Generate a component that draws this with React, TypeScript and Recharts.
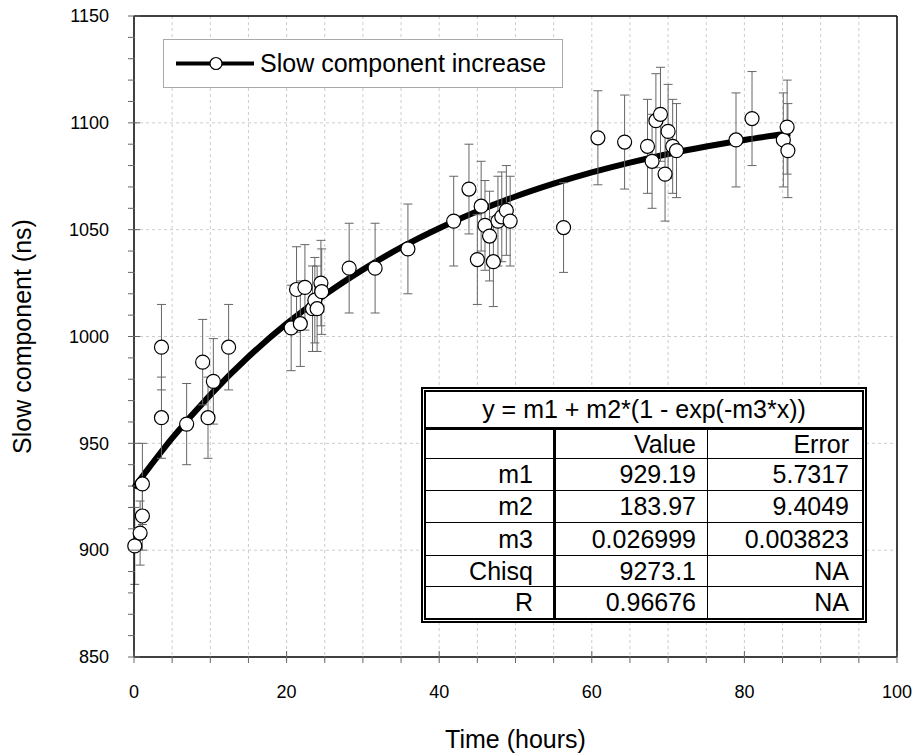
import React from "react"
import { ComposedChart, Line, Scatter, ErrorBar, XAxis, YAxis, CartesianGrid, Legend } from "recharts"

// measured points (hours, ns, error)
const hours = [
  0.1, 0.8, 1.1, 1.1, 3.6, 3.6, 6.9, 9.0, 9.7, 10.4, 12.4,
  20.6, 21.3, 21.8, 22.4, 23.4, 23.7, 24.0, 24.5, 24.6, 28.2, 31.6,
  35.9, 41.9, 43.9, 45.0, 45.5, 46.0, 46.6, 47.1, 47.7, 48.2, 48.8, 49.3, 56.3,
  60.8, 64.3, 67.3, 67.9, 68.4, 69.0, 69.6, 70.0, 70.6, 71.1, 78.9, 81.0, 85.1, 85.6, 85.7,
]
const slow = [
  902, 908, 916, 931, 962, 995, 959, 988, 962, 979, 995,
  1004, 1022, 1006, 1023, 1013, 1017, 1013, 1025, 1021, 1032, 1032,
  1041, 1054, 1069, 1036, 1061, 1052, 1047, 1035, 1054, 1056, 1059, 1054, 1051,
  1093, 1091, 1089, 1082, 1101, 1104, 1076, 1096, 1089, 1087, 1092, 1102, 1092, 1098, 1087,
]
const slowErr = [
  18, 15, 16, 19, 19, 20, 19, 20, 19, 20, 20,
  20, 20, 20, 20, 20, 20, 20, 20, 20, 21, 21,
  21, 21, 21, 21, 21, 21, 21, 21, 21, 21, 21, 21, 21,
  22, 22, 22, 22, 22, 22, 22, 22, 22, 22, 22, 22, 22, 22, 22,
]

// fitted curve
const fitHours = [0, 5, 10, 15, 20, 25, 30, 35, 40, 45, 50, 55, 60, 65, 70, 75, 80, 86]
const fitSlow = [929.2, 952.4, 972.7, 990.5, 1006.0, 1019.5, 1031.3, 1041.7, 1050.7, 1058.6, 1065.5, 1071.5, 1076.8, 1081.4, 1085.4, 1088.9, 1092.0, 1095.1]

const xTicks = [0, 5, 10, 15, 20, 25, 30, 35, 40, 45, 50, 55, 60, 65, 70, 75, 80, 85, 90, 95, 100]
const yTicks = [
  850, 860, 870, 880, 890, 900, 910, 920, 930, 940, 950, 960, 970, 980, 990, 1000,
  1010, 1020, 1030, 1040, 1050, 1060, 1070, 1080, 1090, 1100, 1110, 1120, 1130, 1140, 1150,
]
const xGrid = [5, 10, 15, 20, 25, 30, 35, 40, 45, 50, 55, 60, 65, 70, 75, 80, 85, 90, 95]
const yGrid = [900, 950, 1000, 1050, 1100]

const fitFormula = "y = m1 + m2*(1 - exp(-m3*x))"
const fitNames = ["m1", "m2", "m3", "Chisq", "R"]
const fitValues = ["929.19", "183.97", "0.026999", "9273.1", "0.96676"]
const fitErrors = ["5.7317", "9.4049", "0.003823", "NA", "NA"]

const points = hours.map((x, i) => ({ x, y: slow[i], err: slowErr[i] }))
const fitData = fitHours.map((x, i) => ({ x, y: fitSlow[i] }))

const FONT = "'Liberation Sans', Arial, Helvetica, sans-serif"
const TICK = "#666"
const axisLine = { stroke: "#000", strokeWidth: 1.5 }

function BottomTick({ x, y, payload }: any) {
  const major = payload.value % 20 === 0
  return (
    <g>
      <line x1={x} x2={x} y1={y} y2={y - (major ? 12 : 7)} stroke={TICK} />
      {major && (
        <text x={x} y={y + 35} textAnchor="middle" fontSize={18} fill="#000" fontFamily={FONT}>
          {payload.value}
        </text>
      )}
    </g>
  )
}

function TopTick({ x, y, payload }: any) {
  const major = payload.value % 20 === 0
  return <line x1={x} x2={x} y1={y} y2={y + (major ? 12 : 7)} stroke={TICK} />
}

function LeftTick({ x, y, payload }: any) {
  const major = payload.value % 50 === 0
  return (
    <g>
      <line x1={x} x2={x + (major ? 12 : 7)} y1={y} y2={y} stroke={TICK} />
      {major && (
        <text x={x - 19} y={y} dy="0.35em" textAnchor="end" fontSize={18} fill="#000" fontFamily={FONT}>
          {payload.value}
        </text>
      )}
    </g>
  )
}

function RightTick({ x, y, payload }: any) {
  const major = payload.value % 50 === 0
  return <line x1={x} x2={x - (major ? 12 : 7)} y1={y} y2={y} stroke={TICK} />
}

function Dot(p: any) {
  return <circle cx={p.cx} cy={p.cy} r={7} fill="#fff" stroke="#000" strokeWidth={1.2} />
}

function FitLegend() {
  return (
    <div
      style={{
        boxSizing: "border-box", width: 400, height: 49, border: "1px solid #aaa",
        background: "#fff", display: "flex", alignItems: "center", fontFamily: FONT,
      }}
    >
      <svg width={96} height={47}>
        <line x1={12} x2={90} y1={23.5} y2={23.5} stroke="#000" strokeWidth={4} />
        <circle cx={52} cy={23.5} r={6} fill="#fff" stroke="#000" strokeWidth={1.2} />
      </svg>
      <span style={{ fontSize: 25, color: "#000" }}>Slow component increase</span>
    </div>
  )
}

const cell = (w: number, pad: number, right: string) => ({
  boxSizing: "border-box" as const, width: w, paddingRight: pad, textAlign: "right" as const,
  borderRight: right, display: "flex", alignItems: "center", justifyContent: "flex-end",
})

function FitTable() {
  const rowH = [32, 33, 33, 32, 32]
  return (
    <div
      style={{
        position: "absolute", left: 421, top: 387, width: 446, height: 236, boxSizing: "border-box",
        border: "5px double #000", background: "#fff", fontFamily: FONT, fontSize: 25, color: "#000",
        display: "flex", flexDirection: "column",
      }}
    >
      <div style={{ height: 36, borderBottom: "3px solid #000", display: "flex", alignItems: "center", justifyContent: "center" }}>
        {fitFormula}
      </div>
      <div style={{ height: 28, display: "flex" }}>
        <div style={cell(130, 20, "3px solid #000")}></div>
        <div style={cell(152, 11, "1px solid #000")}>Value</div>
        <div style={cell(154, 13, "none")}>Error</div>
      </div>
      {fitNames.map((n, i) => (
        <div key={n} style={{ height: rowH[i], display: "flex", borderTop: "1px solid #000", boxSizing: "border-box" }}>
          <div style={cell(130, 20, "3px solid #000")}>{n}</div>
          <div style={cell(152, 11, "1px solid #000")}>{fitValues[i]}</div>
          <div style={cell(154, 13, "none")}>{fitErrors[i]}</div>
        </div>
      ))}
    </div>
  )
}

export default function App() {
  return (
    <div style={{ position: "absolute", left: 0, top: 0, width: 914, height: 756, background: "#fff", fontFamily: FONT }}>
      <ComposedChart width={914} height={756} margin={{ top: 0, right: 0, bottom: 0, left: 0 }}>
        <CartesianGrid
          horizontalValues={yGrid}
          verticalValues={xGrid}
          stroke="#ccc"
          strokeDasharray="3 3"
        />
        <XAxis
          dataKey="x" type="number" domain={[0, 100]} ticks={xTicks} interval={0}
          height={99} axisLine={axisLine} tickLine={false} tickMargin={0} tick={BottomTick}
          label={{ value: "Time (hours)", position: "insideBottom", offset: 8, style: { fontSize: 25, fill: "#000", fontFamily: FONT } }}
        />
        <XAxis
          xAxisId="top" orientation="top" type="number" domain={[0, 100]} ticks={xTicks} interval={0}
          height={16} axisLine={axisLine} tickLine={false} tickMargin={0} tick={TopTick}
        />
        <YAxis
          type="number" domain={[850, 1150]} ticks={yTicks} interval={0}
          width={134} axisLine={axisLine} tickLine={false} tickMargin={0} tick={LeftTick}
          label={{ value: "Slow component (ns)", angle: -90, position: "insideLeft", offset: 22, style: { fontSize: 25, fill: "#000", fontFamily: FONT, textAnchor: "middle" } }}
        />
        <YAxis
          yAxisId="right" orientation="right" type="number" domain={[850, 1150]} ticks={yTicks} interval={0}
          width={17} axisLine={axisLine} tickLine={false} tickMargin={0} tick={RightTick}
        />
        <Legend layout="vertical" align="center" verticalAlign="middle" content={FitLegend} wrapperStyle={{ left: 163, top: 39, width: 400, height: 49 }} />
        <Line
          data={fitData} dataKey="y" type="monotone" stroke="#000" strokeWidth={6}
          dot={false} activeDot={false} isAnimationActive={false} legendType="none"
        />
        <Scatter data={points} dataKey="y" shape={Dot} isAnimationActive={false}>
          <ErrorBar dataKey="err" direction="y" width={4.5} stroke="#666" strokeWidth={1} />
        </Scatter>
      </ComposedChart>
      <FitTable />
    </div>
  )
}
